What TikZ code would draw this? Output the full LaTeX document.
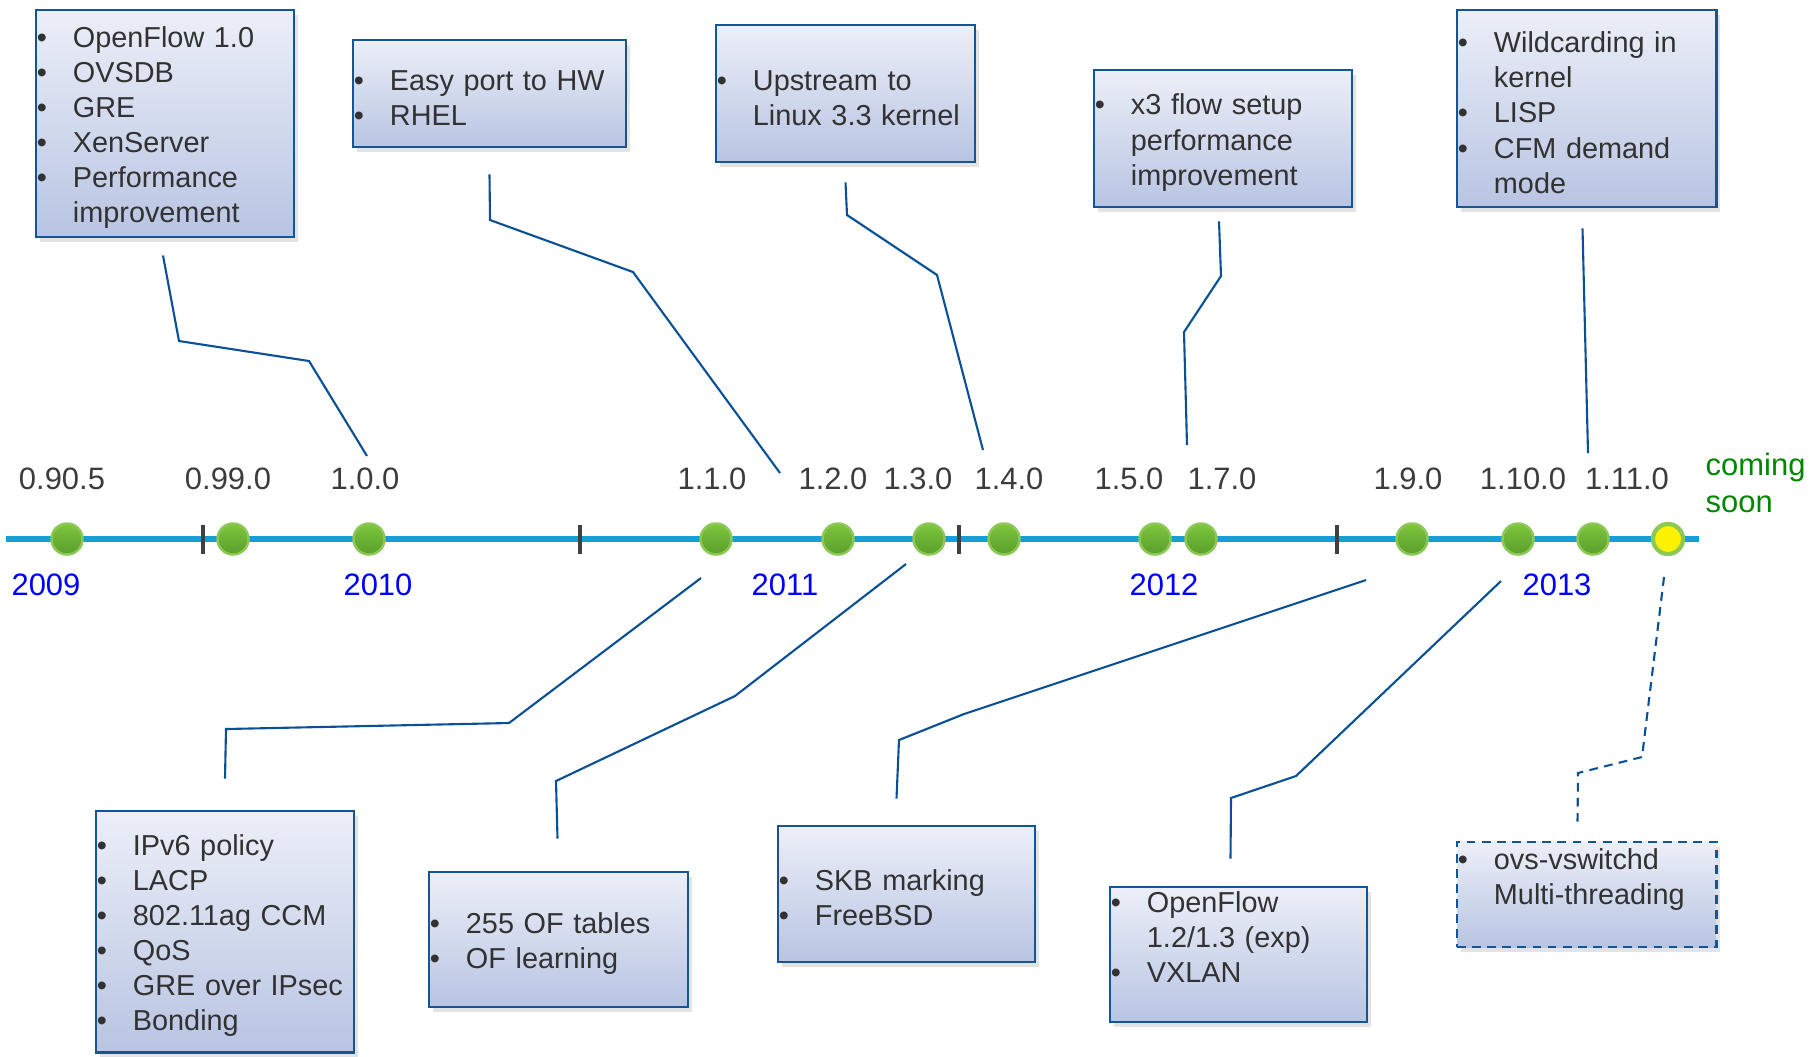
\documentclass[tikz,border=0pt]{standalone}
\usepackage{fontspec}
\setmainfont{Liberation Sans}
\usetikzlibrary{positioning,calc,shadows}
\definecolor{axiscolor}{RGB}{20,160,215}
\definecolor{tickcolor}{RGB}{64,64,64}
\definecolor{leadcolor}{RGB}{10,80,150}
\definecolor{boxedge}{RGB}{20,85,150}
\definecolor{boxtop}{RGB}{236,239,248}
\definecolor{boxbottom}{RGB}{184,196,226}
\definecolor{boxtext}{RGB}{50,50,50}
\definecolor{vertext}{RGB}{60,60,60}
\definecolor{dottop}{RGB}{128,198,62}
\definecolor{dotbottom}{RGB}{88,158,42}
\definecolor{dotrim}{RGB}{140,200,85}
\definecolor{soongreen}{RGB}{0,135,0}
\newcommand{\itm}[1]{\leavevmode\llap{\textbullet\hspace{0.26cm}}\mbox{#1}}
\newcommand{\cont}[1]{\mbox{#1}}

\begin{document}
\begin{tikzpicture}[x=0.01cm, y=-0.01cm,
    feature/.style={draw=boxedge, line width=0.8pt, top color=boxtop, bottom color=boxbottom,
        text=boxtext, font=\fontsize{8.2pt}{10pt}\selectfont, align=left,
        inner xsep=0.37cm, inner ysep=0pt,
        drop shadow={shadow xshift=0.04cm, shadow yshift=-0.05cm, opacity=0.22}},
    lowered/.style={feature, execute at begin node={\rule{0pt}{0.29cm}}},
    planned/.style={feature, dash pattern=on 2.5pt off 1.8pt},
    release/.style={circle, minimum size=0.31cm, inner sep=0pt, draw=dotrim, line width=0.7pt,
        top color=dottop, bottom color=dotbottom},
    upcoming/.style={circle, minimum size=0.30cm, inner sep=0pt, draw=dotrim, line width=1.2pt, fill=yellow},
    version/.style={font=\fontsize{8.8pt}{10pt}\selectfont, text=vertext, inner sep=0pt},
    year/.style={font=\fontsize{8.8pt}{10pt}\selectfont, text=blue, inner sep=0pt},
    leader/.style={draw=leadcolor, line width=0.6pt},
    tickmark/.style={draw=tickcolor, line width=1.4pt}
]
\useasboundingbox (0,0) rectangle (1809,1056);

% time axis
\draw[axiscolor, line width=1.5pt] (6,539) -- (1699,539);
\foreach \t in {203,580,959,1337}
  \draw[tickmark] (\t,525) -- (\t,554);

% releases
\node[release] (d0905) at (67,539) {};
\node[release] (d0990) at (233,539) {};
\node[release] (d100) at (369,539) {};
\node[release] (d110) at (716,539) {};
\node[release] (d120) at (838,539) {};
\node[release] (d130) at (929,539) {};
\node[release] (d140) at (1004,539) {};
\node[release] (d150) at (1155,539) {};
\node[release] (d170) at (1201,539) {};
\node[release] (d190) at (1412,539) {};
\node[release] (d1100) at (1518,539) {};
\node[release] (d1110) at (1593,539) {};
\node[upcoming] (dnext) at (1668,539) {};

\node[version] (v0905) at (62,479) {0.90.5};
\node[version] (v0990) at (228,479) {0.99.0};
\node[version] (v100) at (365,479) {1.0.0};
\node[version] (v110) at (712,479) {1.1.0};
\node[version] (v120) at (833,479) {1.2.0};
\node[version] (v130) at (918,479) {1.3.0};
\node[version] (v140) at (1009,479) {1.4.0};
\node[version] (v150) at (1129,479) {1.5.0};
\node[version] (v170) at (1222,479) {1.7.0};
\node[version] (v190) at (1408,479) {1.9.0};
\node[version] (v1100) at (1523,479) {1.10.0};
\node[version] (v1110) at (1627,479) {1.11.0};
\node[version, text=soongreen, anchor=west, align=left,
      font=\fontsize{8.8pt}{10.5pt}\selectfont] (soon) at (1705,483) {coming\\soon};

\node[year] (y2009) at (46,585) {2009};
\node[year] (y2010) at (378,585) {2010};
\node[year] (y2011) at (785,585) {2011};
\node[year] (y2012) at (1164,585) {2012};
\node[year] (y2013) at (1557,585) {2013};

% feature boxes above
\node[lowered, text width=1.84cm, minimum height=2.27cm] (ofbox) at (165,123.5)
  {\itm{OpenFlow 1.0}\\ \itm{OVSDB}\\ \itm{GRE}\\ \itm{XenServer}\\ \itm{Performance}\\ \cont{improvement}};
\node[lowered, text width=1.99cm, minimum height=1.07cm] (hwbox) at (489.5,93.5)
  {\itm{Easy port to HW}\\ \itm{RHEL}};
\node[lowered, text width=1.85cm, minimum height=1.37cm] (upbox) at (845.5,93.5)
  {\itm{Upstream to}\\ \cont{Linux 3.3 kernel}};
\node[lowered, text width=1.84cm, minimum height=1.37cm] (flowbox) at (1223,138.5)
  {\itm{x3 flow setup}\\ \cont{performance}\\ \cont{improvement}};
\node[lowered, text width=1.85cm, minimum height=1.97cm] (wildbox) at (1586.5,108.5)
  {\itm{Wildcarding in}\\ \cont{kernel}\\ \itm{LISP}\\ \itm{CFM demand}\\ \cont{mode}};

% feature boxes below
\node[lowered, text width=1.84cm, minimum height=2.41cm] (ipvbox) at (225,931.5)
  {\itm{IPv6 policy}\\ \itm{LACP}\\ \itm{802.11ag CCM}\\ \itm{QoS}\\ \itm{GRE over IPsec}\\ \itm{Bonding}};
\node[lowered, text width=1.85cm, minimum height=1.35cm] (tblbox) at (558.5,939.5)
  {\itm{255 OF tables}\\ \itm{OF learning}};
\node[lowered, text width=1.83cm, minimum height=1.36cm] (skbbox) at (906.5,894)
  {\itm{SKB marking}\\ \itm{FreeBSD}};
\node[feature, text width=1.83cm, minimum height=1.35cm] (vxbox) at (1238.5,954.5)
  {\itm{OpenFlow}\\ \cont{1.2/1.3 (exp)}\\ \itm{VXLAN}\\ \mbox{}};
\node[planned, text width=1.85cm, minimum height=1.05cm] (mtbox) at (1586.5,894.5)
  {\itm{ovs-vswitchd}\\ \cont{Multi-threading}\\ \mbox{}};

% leaders
\coordinate (e100) at (367,456);
\coordinate (e120) at (780,473);
\coordinate (e140) at (983,450);
\coordinate (e170) at (1187,445);
\coordinate (e1110) at (1588,453);
\coordinate (s110) at (701,578);
\coordinate (s130) at (906,564);
\coordinate (s190) at (1366,580);
\coordinate (s1100) at (1501,581);
\coordinate (snext) at (1664,577);

\draw[leader] ($(ofbox.south)+(-2,17)$) -- (179,341) -- (309,361) -- (e100);
\draw[leader] ($(hwbox.south)+(0,26)$) -- (490,220) -- (633,272) -- (e120);
\draw[leader] ($(upbox.south)+(0,19)$) -- (847,215) -- (937,275) -- (e140);
\draw[leader] ($(flowbox.south)+(-4,13)$) -- (1221,276) -- (1184,332) -- (e170);
\draw[leader] ($(wildbox.south)+(-4,20)$) -- (e1110);

\draw[leader] (s110) -- (509,723) -- (226,729) -- ($(ipvbox.north)+(0,-31)$);
\draw[leader] (s130) -- (735,696) -- (556,781) -- ($(tblbox.north)+(-1,-32)$);
\draw[leader] (s190) -- (964,714) -- (899,740) -- ($(skbbox.north)+(-10,-26)$);
\draw[leader] (s1100) -- (1296,776) -- (1231,798) -- ($(vxbox.north)+(-8,-27)$);
\draw[leader, dash pattern=on 2.5pt off 1.8pt] (snext) -- (1642,757) -- (1578,773) -- ($(mtbox.north)+(-9,-19)$);
\end{tikzpicture}
\end{document}
